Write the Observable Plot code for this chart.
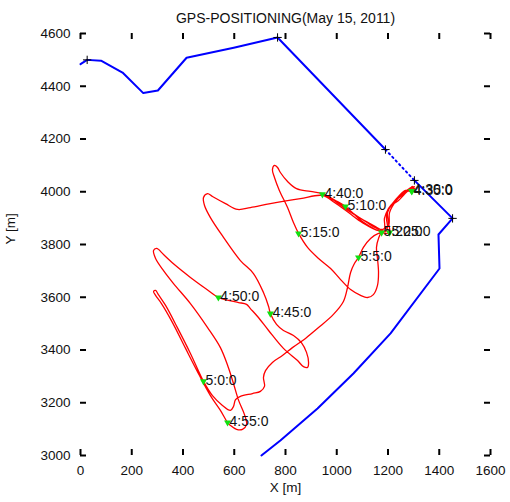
<!DOCTYPE html>
<html><head><meta charset="utf-8">
<script src="https://cdn.jsdelivr.net/npm/d3@7"></script>
<script src="https://cdn.jsdelivr.net/npm/@observablehq/plot@0.6"></script>
<style>body{margin:0;background:#fff;} #chart svg{font-family:"Liberation Sans",Arial,sans-serif;}</style>
</head><body><div id="chart"></div>
<script>
const title = "GPS-POSITIONING(May 15, 2011)";
const xLabel = "X [m]";
const yLabel = "Y [m]";
const xTicks = [0, 200, 400, 600, 800, 1000, 1200, 1400, 1600];
const yTicks = [3000, 3200, 3400, 3600, 3800, 4000, 4200, 4400, 4600];

// blue reference route (solid, dotted gap, solid)
const routeA = [[0,4484],[26,4500],[80,4497],[164,4452],[245,4374],[302,4384],[414,4508],[598,4546],[769,4585],[1190,4160]];
const routeGap = [[1190,4160],[1303,4043]];
const routeB = [[1303,4043],[1452,3899],[1397,3838],[1401,3709],[1210,3463],[1065,3311],[925,3178],[780,3057],[706,3000]];
const waypoints = [[26,4500],[769,4585],[1190,4160],[1303,4043],[1452,3899]];

// red GPS track
const track = [
[1292,4005],[1303,4020],[1284,4009],[1299,4016],[1292,4001],[1268,4005],[1241,3982],[1217,3955],[1198,3929],[1194,3899],
[1198,3868],[1190,3849],[1151,3868],[1093,3899],[1034,3936],[983,3971],[944,3990],[995,3967],[1054,3925],[1112,3887],
[1171,3857],[1202,3872],[1206,3921],[1233,3967],[1268,4001],[1295,4020],[1264,3993],[1225,3963],[1202,3936],[1186,3899],
[1186,3861],[1163,3853],[1100,3883],[1046,3921],[991,3959],[944,3986],[858,3974],[741,3955],[663,3940],[613,3933],
[566,3955],[515,3982],[496,3993],[480,3978],[484,3948],[507,3902],[558,3827],[624,3739],[675,3690],[714,3618],
[734,3565],[741,3538],[765,3497],[792,3474],[831,3455],[862,3428],[882,3391],[890,3353],[886,3334],[870,3337],
[847,3360],[792,3406],[734,3474],[691,3527],[663,3557],[648,3573],[617,3580],[577,3588],[538,3599],[488,3633],
[429,3675],[371,3720],[324,3762],[297,3785],[285,3777],[293,3747],[324,3701],[363,3652],[429,3576],[496,3485],
[546,3409],[577,3334],[597,3273],[617,3209],[640,3155],[648,3118],[632,3099],[609,3099],[585,3114],[574,3125],
[546,3171],[507,3227],[460,3311],[410,3406],[359,3504],[316,3576],[293,3607],[285,3622],[293,3626],[304,3610],
[332,3569],[378,3485],[429,3387],[480,3281],[515,3227],[554,3190],[585,3171],[597,3186],[605,3212],[624,3224],
[671,3235],[702,3243],[718,3262],[714,3296],[722,3322],[749,3353],[788,3379],[827,3409],[878,3444],[929,3485],
[987,3535],[1026,3584],[1042,3637],[1054,3694],[1069,3728],[1085,3751],[1104,3789],[1132,3823],[1163,3842],[1182,3845],
[1151,3857],[1100,3887],[1034,3944],[995,3967],[944,3993],[897,4001],[843,4012],[808,4039],[780,4073],[769,4092],
[757,4100],[749,4084],[757,4054],[776,4005],[808,3940],[831,3883],[851,3842],[886,3789],[929,3747],[976,3709],
[1015,3667],[1054,3629],[1093,3607],[1120,3599],[1143,3610],[1159,3645],[1163,3694],[1159,3747],[1155,3789],[1163,3823],
[1175,3845],[1190,3842],[1206,3845],[1202,3883],[1198,3921],[1213,3948],[1241,3967],[1264,3990],[1284,4009],[1295,4020],
[1303,4012]
];

// time marks
const markTimes = ["4:30:0","4:35:0","4:40:0","4:45:0","4:50:0","4:55:0","5:0:0","5:5:0","5:10:0","5:15:0","5:20:0","5:25:0"];
const markX = [1292,1293,944,741,538,574,480,1085,1034,851,1175,1206];
const markY = [4003,4001,3990,3538,3599,3125,3281,3751,3944,3842,3845,3845];
const marks = markTimes.map((t, i) => ({t, x: markX[i], y: markY[i]}));

const fmt = d3.format("d");

const chart = Plot.plot({
  width: 510, height: 502,
  marginLeft: 80, marginRight: 20, marginTop: 33, marginBottom: 47,
  x: {domain: [0, 1600]},
  y: {domain: [3000, 4600]},
  style: {fontFamily: "Liberation Sans, Arial, sans-serif", fontSize: "13.5px", background: "white", color: "black"},
  marks: [
    Plot.axisX(xTicks, {anchor: "bottom", tickSize: 0, tickPadding: 10, label: null, fontSize: 13.5, tickFormat: fmt, fill: "#111"}),
    Plot.axisY(yTicks, {anchor: "left", tickSize: 0, tickPadding: 10, label: null, fontSize: 13.5, tickFormat: fmt, fill: "#111"}),
    Plot.ruleX(xTicks, {x: d => d, insetTop: 416, stroke: "black", strokeWidth: 2}),
    Plot.ruleX(xTicks, {x: d => d, insetBottom: 416, stroke: "black", strokeWidth: 2}),
    Plot.ruleY(yTicks, {y: d => d, insetRight: 404, stroke: "black", strokeWidth: 2}),
    Plot.ruleY(yTicks, {y: d => d, insetLeft: 404, stroke: "black", strokeWidth: 2}),
    Plot.line(routeA, {x: d => d[0], y: d => d[1], stroke: "#0000ff", strokeWidth: 2}),
    Plot.line(routeGap, {x: d => d[0], y: d => d[1], stroke: "#0000ff", strokeWidth: 2, strokeDasharray: "1.5,3.5"}),
    Plot.line(routeB, {x: d => d[0], y: d => d[1], stroke: "#0000ff", strokeWidth: 2}),
    Plot.dot(waypoints, {x: d => d[0], y: d => d[1], symbol: "plus", r: 2.8, stroke: "black", strokeWidth: 1}),
    Plot.line(track, {x: d => d[0], y: d => d[1], stroke: "#ff0000", strokeWidth: 1.3, curve: "catmull-rom"}),
    Plot.dot(marks, {x: "x", y: "y", symbol: "triangle", rotate: 180, r: 2.6, fill: "#10e010", stroke: null}),
    Plot.text(marks, {x: "x", y: "y", text: "t", textAnchor: "start", dx: 2, dy: -1, fontSize: 14, fill: "#111"}),
    Plot.text([title], {text: d => d, frameAnchor: "top", dy: -20, fontSize: 14, fill: "#111"}),
    Plot.text([xLabel], {text: d => d, frameAnchor: "bottom", dy: 36, fontSize: 13.5, fill: "#111"}),
    Plot.text([yLabel], {text: d => d, frameAnchor: "left", dx: -70, rotate: -90, fontSize: 13.5, fill: "#111"})
  ]
});
document.getElementById("chart").appendChild(chart);
</script>
</body></html>
